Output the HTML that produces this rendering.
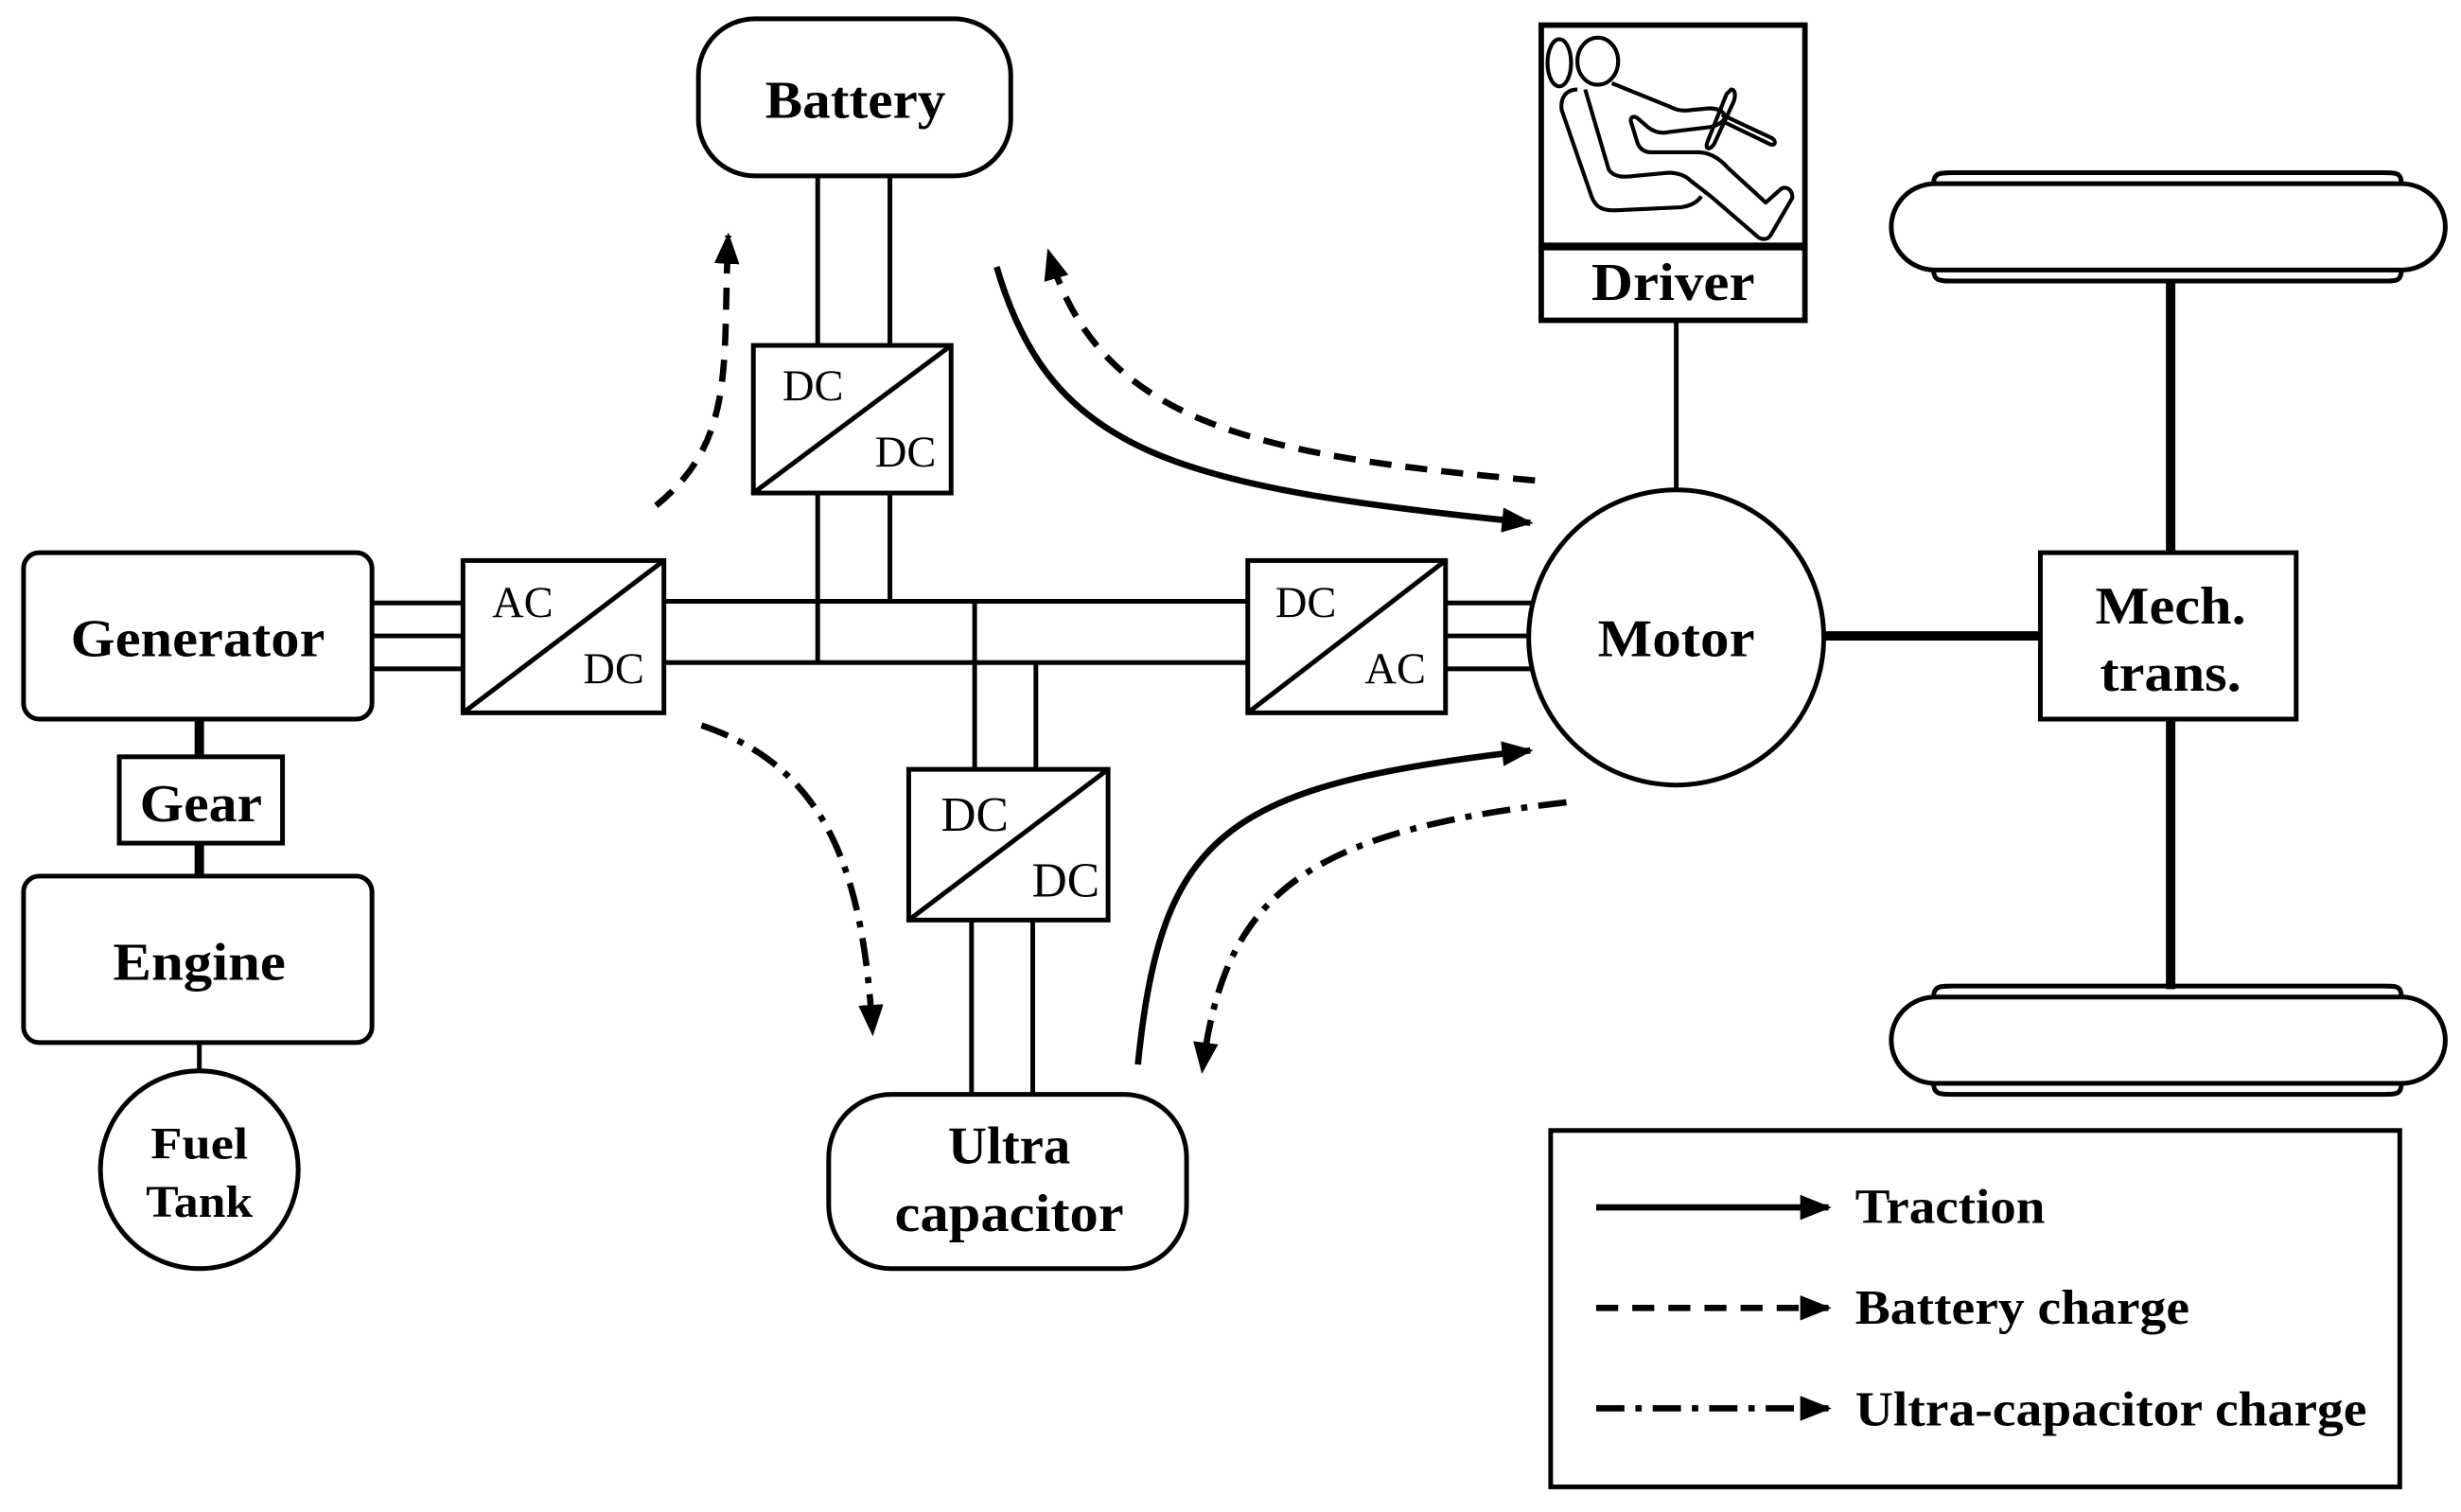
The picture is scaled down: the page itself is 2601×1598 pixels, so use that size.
<!DOCTYPE html>
<html><head><meta charset="utf-8"><style>html,body{margin:0;padding:0;background:#fff}svg{display:block}</style></head>
<body>
<svg width="2601" height="1598" viewBox="0 0 1568 963" preserveAspectRatio="none" xmlns="http://www.w3.org/2000/svg">
<defs>
<marker id="ah" viewBox="0 0 10 10" refX="9" refY="5" markerWidth="5" markerHeight="5" orient="auto" markerUnits="strokeWidth"><path d="M0,1 L10,5 L0,9 z" fill="#000"/></marker>
</defs>
<g fill="none" stroke="#000" stroke-width="3">
<rect x="445" y="12" width="199" height="100" rx="36"/>
<line x1="521" y1="112" x2="521" y2="220"/><line x1="567" y1="112" x2="567" y2="220"/>
<rect x="480" y="220" width="126" height="94"/><line x1="480" y1="314" x2="606" y2="220"/>
<line x1="521" y1="314" x2="521" y2="422"/><line x1="567" y1="314" x2="567" y2="383"/>
<line x1="423" y1="383" x2="795" y2="383"/><line x1="423" y1="422" x2="795" y2="422"/>
<rect x="15" y="352" width="222" height="106" rx="10"/>
<line x1="237" y1="384" x2="295" y2="384"/><line x1="237" y1="405" x2="295" y2="405"/><line x1="237" y1="426" x2="295" y2="426"/>
<rect x="295" y="357" width="128" height="97"/><line x1="295" y1="454" x2="423" y2="357"/>
<rect x="795" y="357" width="126" height="97"/><line x1="795" y1="454" x2="921" y2="357"/>
<line x1="921" y1="384" x2="976" y2="384"/><line x1="921" y1="405" x2="974" y2="405"/><line x1="921" y1="426" x2="976" y2="426"/>
<circle cx="1068" cy="406" r="94"/>
<rect x="982" y="16" width="168" height="188" stroke-width="3.5"/>
<line x1="982" y1="157" x2="1150" y2="157" stroke-width="5"/>
<line x1="1068" y1="204" x2="1068" y2="312"/>
<g stroke-width="2.5" stroke-linejoin="round">
<ellipse cx="993.5" cy="40" rx="7.5" ry="15"/>
<ellipse cx="1018" cy="39" rx="13" ry="15"/>
<path d="M1005,57 C998,57 994,62 995,70 L1014,125 C1017,133 1022,134 1029,134 L1071,132 C1078,131 1082,128 1084,125"/>
<path d="M1010,57 L1025,108 C1028,113 1035,113 1042,112 L1063,110 C1070,110 1074,112 1077,115 L1090,125 L1119,150 C1122,153 1126,153 1128,150 L1142,126 C1142,120 1137,118 1134,121 L1125,129 L1101,107 C1095,100 1088,97 1082,97 L1052,97 C1047,97 1044,94 1043,90 L1039,77 C1039,74 1041,74 1043,75 L1050,81 C1055,85 1060,85 1064,84 L1089,81 C1095,80 1099,77 1099,74 C1098,70 1093,69 1089,69 L1078,70 C1072,71 1068,70 1064,68 L1027,53"/>
<path d="M1103,57 C1106,57 1106,62 1104,66 L1092,92 C1089,96 1086,95 1088,90 L1100,60 Z"/>
<path d="M1097,73 L1129,88 C1132,90 1131,93 1128,92 L1099,78"/>
</g>
<rect x="1300" y="352" width="163" height="106"/>
<line x1="1162" y1="405" x2="1300" y2="405" stroke-width="6"/>
<line x1="1383" y1="178" x2="1383" y2="352" stroke-width="6"/>
<line x1="1383" y1="458" x2="1383" y2="630" stroke-width="6"/>
<rect x="1205" y="117" width="353" height="55" rx="28"/>
<path d="M1232,117 C1232,110 1236,110 1245,110 L1518,110 C1527,110 1530,110 1530,117 M1232,172 C1232,179 1236,179 1245,179 L1518,179 C1527,179 1530,179 1530,172"/>
<rect x="1205" y="635" width="353" height="55" rx="28"/>
<path d="M1232,635 C1232,628 1236,628 1245,628 L1518,628 C1527,628 1530,628 1530,635 M1232,690 C1232,697 1236,697 1245,697 L1518,697 C1527,697 1530,697 1530,690"/>
<line x1="621" y1="383" x2="621" y2="490"/><line x1="660" y1="422" x2="660" y2="490"/>
<rect x="579" y="490" width="127" height="96"/><line x1="579" y1="586" x2="706" y2="490"/>
<line x1="619" y1="586" x2="619" y2="697"/><line x1="658" y1="586" x2="658" y2="697"/>
<rect x="528" y="697" width="228" height="111" rx="40"/>
<line x1="127" y1="458" x2="127" y2="482" stroke-width="6"/>
<rect x="76" y="482" width="104" height="55"/>
<line x1="127" y1="537" x2="127" y2="558" stroke-width="6"/>
<rect x="15" y="558" width="222" height="106" rx="10"/>
<line x1="127" y1="664" x2="127" y2="682"/>
<circle cx="127" cy="745" r="63"/>
<rect x="988" y="720" width="541" height="227"/>
</g>
<g fill="none" stroke="#000" stroke-width="4">
<path d="M635,170 C670,290 750,310 975,333" marker-end="url(#ah)"/>
<path d="M978,306 C800,290 700,270 668,160" stroke-dasharray="14,9" marker-end="url(#ah)"/>
<path d="M418,322 C470,280 460,230 464,150" stroke-dasharray="14,9" marker-end="url(#ah)"/>
<path d="M447,462 C530,490 550,560 556,658" stroke-dasharray="18,7,4,7" marker-end="url(#ah)"/>
<path d="M725,678 C740,530 780,500 975,478" marker-end="url(#ah)"/>
<path d="M998,511 C830,530 780,570 766,682" stroke-dasharray="18,7,4,7" marker-end="url(#ah)"/>
<line x1="1017" y1="769" x2="1165" y2="769" marker-end="url(#ah)"/>
<line x1="1017" y1="833" x2="1165" y2="833" stroke-dasharray="14,9" marker-end="url(#ah)"/>
<line x1="1017" y1="897" x2="1165" y2="897" stroke-dasharray="18,7,4,7" marker-end="url(#ah)"/>
</g>
<g font-family="Liberation Serif, serif" font-weight="bold" font-size="34" text-anchor="middle" fill="#000">
<text x="545" y="75" textLength="115" lengthAdjust="spacingAndGlyphs">Battery</text>
<text x="126" y="418" textLength="162" lengthAdjust="spacingAndGlyphs">Generator</text>
<text x="1068" y="418" textLength="100" lengthAdjust="spacingAndGlyphs">Motor</text>
<text x="1066" y="191" textLength="104" lengthAdjust="spacingAndGlyphs">Driver</text>
<text x="1383" y="397" textLength="96" lengthAdjust="spacingAndGlyphs">Mech.</text>
<text x="1383" y="440" textLength="90" lengthAdjust="spacingAndGlyphs">trans.</text>
<text x="643" y="741" textLength="78" lengthAdjust="spacingAndGlyphs">Ultra</text>
<text x="643" y="784" textLength="146" lengthAdjust="spacingAndGlyphs">capacitor</text>
<text x="128" y="523" textLength="78" lengthAdjust="spacingAndGlyphs">Gear</text>
<text x="127" y="624" textLength="110" lengthAdjust="spacingAndGlyphs">Engine</text>
<text x="127" y="738" font-size="29" textLength="62" lengthAdjust="spacingAndGlyphs">Fuel</text>
<text x="127" y="775" font-size="29" textLength="68" lengthAdjust="spacingAndGlyphs">Tank</text>
</g>
<g font-family="Liberation Serif, serif" font-size="28" text-anchor="middle" fill="#000">
<text x="518" y="255">DC</text><text x="577" y="297">DC</text>
<text x="333" y="393">AC</text><text x="391" y="435">DC</text>
<text x="832" y="393">DC</text><text x="889" y="435">AC</text>
<text x="621" y="529" font-size="31">DC</text><text x="679" y="571" font-size="31">DC</text>
</g>
<g font-family="Liberation Serif, serif" font-weight="bold" font-size="31" fill="#000">
<text x="1182" y="779" textLength="121" lengthAdjust="spacingAndGlyphs">Traction</text>
<text x="1182" y="843" textLength="213" lengthAdjust="spacingAndGlyphs">Battery charge</text>
<text x="1182" y="908" textLength="326" lengthAdjust="spacingAndGlyphs">Ultra-capacitor charge</text>
</g>
</svg>
</body></html>
